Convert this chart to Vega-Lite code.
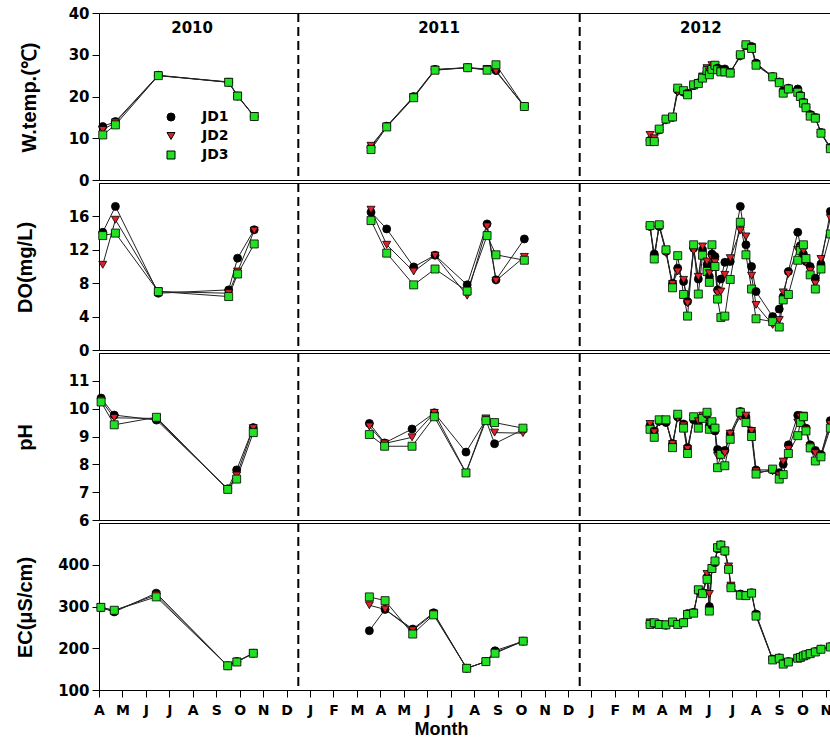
{
"$schema": "https://vega.github.io/schema/vega-lite/v6.json",
"background": "white",
"padding": {"left": 14, "top": 5, "right": 0, "bottom": 0},
"spacing": 3,
"bounds": "flush",
"datasets": {
"temp": [
{"yr":2010,"m":0.16,"JD1":12.8,"JD2":12.0,"JD3":10.8},
{"yr":2010,"m":0.7,"JD1":14.0,"JD2":13.8,"JD3":13.2},
{"yr":2010,"m":2.53,"JD1":25.1,"JD2":25.0,"JD3":25.0},
{"yr":2010,"m":5.53,"JD1":23.4,"JD2":23.5,"JD3":23.4},
{"yr":2010,"m":5.91,"JD1":20.1,"JD2":20.2,"JD3":20.1},
{"yr":2010,"m":6.62,"JD1":15.2,"JD2":15.3,"JD3":15.2},
{"yr":2011,"m":11.6,"JD1":7.8,"JD2":8.2,"JD3":7.3},
{"yr":2011,"m":12.27,"JD1":12.9,"JD2":12.8,"JD3":12.7},
{"yr":2011,"m":13.42,"JD1":20.0,"JD2":19.9,"JD3":19.7},
{"yr":2011,"m":14.33,"JD1":26.5,"JD2":26.4,"JD3":26.3},
{"yr":2011,"m":15.72,"JD1":26.9,"JD2":26.9,"JD3":26.9},
{"yr":2011,"m":16.55,"JD1":26.5,"JD2":26.6,"JD3":26.3},
{"yr":2011,"m":16.93,"JD1":26.2,"JD2":26.0,"JD3":27.6},
{"yr":2011,"m":18.14,"JD1":17.6,"JD2":17.6,"JD3":17.6},
{"yr":2012,"m":23.5,"JD1":9.5,"JD2":10.8,"JD3":9.2},
{"yr":2012,"m":23.68,"JD1":9.4,"JD2":10.0,"JD3":9.2},
{"yr":2012,"m":23.89,"JD1":12.0,"JD2":11.8,"JD3":12.2},
{"yr":2012,"m":24.18,"JD1":14.5,"JD2":14.2,"JD3":14.6},
{"yr":2012,"m":24.46,"JD1":15.0,"JD2":15.0,"JD3":15.1},
{"yr":2012,"m":24.68,"JD1":21.5,"JD2":21.0,"JD3":22.0},
{"yr":2012,"m":24.93,"JD1":21.0,"JD2":21.0,"JD3":21.4},
{"yr":2012,"m":25.1,"JD1":20.8,"JD2":20.6,"JD3":20.4},
{"yr":2012,"m":25.36,"JD1":22.6,"JD2":22.5,"JD3":22.8},
{"yr":2012,"m":25.56,"JD1":23.3,"JD2":23.2,"JD3":23.1},
{"yr":2012,"m":25.74,"JD1":24.6,"JD2":24.8,"JD3":24.4},
{"yr":2012,"m":25.93,"JD1":26.0,"JD2":26.8,"JD3":26.2},
{"yr":2012,"m":26.03,"JD1":25.8,"JD2":26.0,"JD3":25.2},
{"yr":2012,"m":26.14,"JD1":26.8,"JD2":27.5,"JD3":26.5},
{"yr":2012,"m":26.27,"JD1":27.2,"JD2":27.3,"JD3":27.5},
{"yr":2012,"m":26.38,"JD1":26.8,"JD2":26.6,"JD3":26.4},
{"yr":2012,"m":26.52,"JD1":26.3,"JD2":26.2,"JD3":25.9},
{"yr":2012,"m":26.69,"JD1":26.6,"JD2":26.0,"JD3":25.9},
{"yr":2012,"m":26.92,"JD1":25.8,"JD2":25.8,"JD3":25.6},
{"yr":2012,"m":27.35,"JD1":29.8,"JD2":29.5,"JD3":30.0},
{"yr":2012,"m":27.59,"JD1":32.2,"JD2":32.0,"JD3":32.4},
{"yr":2012,"m":27.83,"JD1":32.0,"JD2":31.8,"JD3":31.5},
{"yr":2012,"m":28.02,"JD1":28.0,"JD2":27.8,"JD3":27.5},
{"yr":2012,"m":28.73,"JD1":24.8,"JD2":24.7,"JD3":24.7},
{"yr":2012,"m":29.01,"JD1":23.5,"JD2":23.4,"JD3":23.3},
{"yr":2012,"m":29.18,"JD1":21.3,"JD2":21.0,"JD3":20.8},
{"yr":2012,"m":29.4,"JD1":22.0,"JD2":21.6,"JD3":21.8},
{"yr":2012,"m":29.8,"JD1":21.8,"JD2":21.2,"JD3":21.0},
{"yr":2012,"m":29.91,"JD1":20.3,"JD2":20.1,"JD3":20.0},
{"yr":2012,"m":30.04,"JD1":18.6,"JD2":18.5,"JD3":18.4},
{"yr":2012,"m":30.15,"JD1":17.4,"JD2":17.2,"JD3":17.3},
{"yr":2012,"m":30.33,"JD1":15.7,"JD2":15.5,"JD3":15.3},
{"yr":2012,"m":30.55,"JD1":15.0,"JD2":14.9,"JD3":14.8},
{"yr":2012,"m":30.79,"JD1":11.4,"JD2":11.3,"JD3":11.2},
{"yr":2012,"m":31.19,"JD1":7.8,"JD2":7.6,"JD3":7.5}
],
"dox": [
{"yr":2010,"m":0.16,"JD1":14.1,"JD2":10.2,"JD3":13.7},
{"yr":2010,"m":0.7,"JD1":17.2,"JD2":15.6,"JD3":14.0},
{"yr":2010,"m":2.53,"JD1":6.8,"JD2":7.0,"JD3":7.0},
{"yr":2010,"m":5.53,"JD1":7.2,"JD2":6.8,"JD3":6.4},
{"yr":2010,"m":5.91,"JD1":11.0,"JD2":9.4,"JD3":9.1},
{"yr":2010,"m":6.62,"JD1":14.4,"JD2":14.3,"JD3":12.7},
{"yr":2011,"m":11.6,"JD1":16.5,"JD2":16.8,"JD3":15.5},
{"yr":2011,"m":12.27,"JD1":14.5,"JD2":12.6,"JD3":11.6},
{"yr":2011,"m":13.42,"JD1":9.95,"JD2":9.4,"JD3":7.8},
{"yr":2011,"m":14.33,"JD1":11.35,"JD2":11.3,"JD3":9.7},
{"yr":2011,"m":15.7,"JD1":7.8,"JD2":6.5,"JD3":7.05},
{"yr":2011,"m":16.55,"JD1":15.1,"JD2":14.8,"JD3":13.7},
{"yr":2011,"m":16.93,"JD1":8.4,"JD2":8.3,"JD3":11.4},
{"yr":2011,"m":18.14,"JD1":13.3,"JD2":11.15,"JD3":10.75},
{"yr":2012,"m":23.5,"JD1":14.8,"JD2":14.7,"JD3":14.9},
{"yr":2012,"m":23.68,"JD1":11.5,"JD2":11.0,"JD3":10.9},
{"yr":2012,"m":23.89,"JD1":14.8,"JD2":14.9,"JD3":15.0},
{"yr":2012,"m":24.18,"JD1":11.8,"JD2":11.6,"JD3":12.0},
{"yr":2012,"m":24.46,"JD1":8.0,"JD2":7.9,"JD3":7.45},
{"yr":2012,"m":24.68,"JD1":9.8,"JD2":9.4,"JD3":11.3},
{"yr":2012,"m":24.93,"JD1":8.2,"JD2":8.4,"JD3":6.65},
{"yr":2012,"m":25.1,"JD1":5.8,"JD2":5.6,"JD3":4.06},
{"yr":2012,"m":25.36,"JD1":12.2,"JD2":11.85,"JD3":12.6},
{"yr":2012,"m":25.56,"JD1":8.5,"JD2":8.76,"JD3":6.7},
{"yr":2012,"m":25.74,"JD1":12.0,"JD2":12.4,"JD3":11.35},
{"yr":2012,"m":25.93,"JD1":10.2,"JD2":10.6,"JD3":9.4},
{"yr":2012,"m":26.03,"JD1":8.8,"JD2":9.2,"JD3":8.1},
{"yr":2012,"m":26.14,"JD1":11.5,"JD2":11.0,"JD3":12.6},
{"yr":2012,"m":26.27,"JD1":11.2,"JD2":10.5,"JD3":10.0},
{"yr":2012,"m":26.38,"JD1":7.2,"JD2":6.8,"JD3":6.1},
{"yr":2012,"m":26.52,"JD1":8.5,"JD2":7.0,"JD3":3.9},
{"yr":2012,"m":26.69,"JD1":10.5,"JD2":9.0,"JD3":4.06},
{"yr":2012,"m":26.92,"JD1":10.6,"JD2":11.0,"JD3":8.45},
{"yr":2012,"m":27.35,"JD1":17.2,"JD2":14.3,"JD3":15.3},
{"yr":2012,"m":27.59,"JD1":12.6,"JD2":13.6,"JD3":11.4},
{"yr":2012,"m":27.83,"JD1":10.0,"JD2":8.9,"JD3":7.3},
{"yr":2012,"m":28.02,"JD1":7.0,"JD2":5.4,"JD3":3.74},
{"yr":2012,"m":28.73,"JD1":4.0,"JD2":3.0,"JD3":3.4},
{"yr":2012,"m":29.01,"JD1":4.9,"JD2":3.6,"JD3":2.75},
{"yr":2012,"m":29.18,"JD1":6.4,"JD2":6.9,"JD3":6.0},
{"yr":2012,"m":29.4,"JD1":9.4,"JD2":9.1,"JD3":6.65},
{"yr":2012,"m":29.8,"JD1":14.1,"JD2":12.0,"JD3":10.75},
{"yr":2012,"m":29.91,"JD1":12.5,"JD2":12.2,"JD3":11.9},
{"yr":2012,"m":30.04,"JD1":11.5,"JD2":11.9,"JD3":12.6},
{"yr":2012,"m":30.15,"JD1":10.6,"JD2":10.45,"JD3":10.95},
{"yr":2012,"m":30.33,"JD1":10.0,"JD2":9.5,"JD3":9.0},
{"yr":2012,"m":30.55,"JD1":8.6,"JD2":7.95,"JD3":7.3},
{"yr":2012,"m":30.79,"JD1":10.3,"JD2":10.9,"JD3":9.7},
{"yr":2012,"m":31.19,"JD1":16.6,"JD2":15.8,"JD3":13.9}
],
"ph": [
{"yr":2010,"m":0.09,"JD1":10.38,"JD2":10.3,"JD3":10.24},
{"yr":2010,"m":0.65,"JD1":9.77,"JD2":9.67,"JD3":9.42},
{"yr":2010,"m":2.45,"JD1":9.59,"JD2":9.65,"JD3":9.69},
{"yr":2010,"m":5.49,"JD1":7.12,"JD2":7.1,"JD3":7.1},
{"yr":2010,"m":5.87,"JD1":7.8,"JD2":7.6,"JD3":7.47},
{"yr":2010,"m":6.58,"JD1":9.32,"JD2":9.3,"JD3":9.14},
{"yr":2011,"m":11.53,"JD1":9.47,"JD2":9.36,"JD3":9.07},
{"yr":2011,"m":12.18,"JD1":8.77,"JD2":8.75,"JD3":8.65},
{"yr":2011,"m":13.35,"JD1":9.27,"JD2":8.97,"JD3":8.65},
{"yr":2011,"m":14.3,"JD1":9.85,"JD2":9.85,"JD3":9.71},
{"yr":2011,"m":15.65,"JD1":8.44,"JD2":7.7,"JD3":7.69},
{"yr":2011,"m":16.5,"JD1":9.6,"JD2":9.65,"JD3":9.57},
{"yr":2011,"m":16.87,"JD1":8.74,"JD2":9.14,"JD3":9.5},
{"yr":2011,"m":18.08,"JD1":9.25,"JD2":9.12,"JD3":9.3},
{"yr":2012,"m":23.5,"JD1":9.4,"JD2":9.45,"JD3":9.26},
{"yr":2012,"m":23.68,"JD1":9.2,"JD2":9.15,"JD3":8.97},
{"yr":2012,"m":23.89,"JD1":9.55,"JD2":9.5,"JD3":9.6},
{"yr":2012,"m":24.18,"JD1":9.5,"JD2":9.55,"JD3":9.6},
{"yr":2012,"m":24.46,"JD1":8.75,"JD2":8.73,"JD3":8.6},
{"yr":2012,"m":24.68,"JD1":9.7,"JD2":9.65,"JD3":9.8},
{"yr":2012,"m":24.93,"JD1":9.45,"JD2":9.4,"JD3":9.3},
{"yr":2012,"m":25.1,"JD1":8.6,"JD2":8.55,"JD3":8.39},
{"yr":2012,"m":25.36,"JD1":9.6,"JD2":9.65,"JD3":9.71},
{"yr":2012,"m":25.56,"JD1":9.5,"JD2":9.55,"JD3":9.3},
{"yr":2012,"m":25.74,"JD1":9.7,"JD2":9.75,"JD3":9.65},
{"yr":2012,"m":25.93,"JD1":9.8,"JD2":9.75,"JD3":9.87},
{"yr":2012,"m":26.03,"JD1":9.4,"JD2":9.45,"JD3":9.26},
{"yr":2012,"m":26.14,"JD1":9.4,"JD2":9.45,"JD3":9.53},
{"yr":2012,"m":26.27,"JD1":9.2,"JD2":9.25,"JD3":9.3},
{"yr":2012,"m":26.38,"JD1":8.53,"JD2":8.3,"JD3":7.88},
{"yr":2012,"m":26.52,"JD1":8.45,"JD2":8.3,"JD3":8.36},
{"yr":2012,"m":26.69,"JD1":8.5,"JD2":8.4,"JD3":7.95},
{"yr":2012,"m":26.92,"JD1":9.1,"JD2":9.1,"JD3":8.9},
{"yr":2012,"m":27.35,"JD1":9.9,"JD2":9.71,"JD3":9.87},
{"yr":2012,"m":27.59,"JD1":9.7,"JD2":9.75,"JD3":9.5},
{"yr":2012,"m":27.83,"JD1":9.2,"JD2":9.2,"JD3":9.0},
{"yr":2012,"m":28.02,"JD1":7.8,"JD2":7.75,"JD3":7.65},
{"yr":2012,"m":28.73,"JD1":7.8,"JD2":7.75,"JD3":7.83},
{"yr":2012,"m":29.01,"JD1":7.7,"JD2":7.6,"JD3":7.47},
{"yr":2012,"m":29.18,"JD1":8.0,"JD2":8.1,"JD3":7.63},
{"yr":2012,"m":29.4,"JD1":8.7,"JD2":8.55,"JD3":8.39},
{"yr":2012,"m":29.8,"JD1":9.76,"JD2":9.5,"JD3":9.03},
{"yr":2012,"m":29.91,"JD1":9.75,"JD2":9.7,"JD3":9.5},
{"yr":2012,"m":30.04,"JD1":9.7,"JD2":9.75,"JD3":9.71},
{"yr":2012,"m":30.15,"JD1":9.3,"JD2":9.25,"JD3":9.2},
{"yr":2012,"m":30.33,"JD1":8.7,"JD2":8.65,"JD3":8.59},
{"yr":2012,"m":30.55,"JD1":8.5,"JD2":8.4,"JD3":8.12},
{"yr":2012,"m":30.79,"JD1":8.35,"JD2":8.3,"JD3":8.27},
{"yr":2012,"m":31.19,"JD1":9.57,"JD2":9.45,"JD3":9.3}
],
"ec": [
{"yr":2010,"m":0.08,"JD1":297,"JD2":298,"JD3":298},
{"yr":2010,"m":0.65,"JD1":287,"JD2":290,"JD3":291},
{"yr":2010,"m":2.44,"JD1":332,"JD2":328,"JD3":323},
{"yr":2010,"m":5.49,"JD1":158,"JD2":158,"JD3":158},
{"yr":2010,"m":5.88,"JD1":168,"JD2":168,"JD3":167},
{"yr":2010,"m":6.58,"JD1":188,"JD2":188,"JD3":188},
{"yr":2011,"m":11.53,"JD1":242,"JD2":303,"JD3":323},
{"yr":2011,"m":12.2,"JD1":293,"JD2":293,"JD3":314},
{"yr":2011,"m":13.38,"JD1":246,"JD2":243,"JD3":234},
{"yr":2011,"m":14.27,"JD1":285,"JD2":283,"JD3":280},
{"yr":2011,"m":15.68,"JD1":152,"JD2":152,"JD3":152},
{"yr":2011,"m":16.5,"JD1":168,"JD2":168,"JD3":168},
{"yr":2011,"m":16.89,"JD1":194,"JD2":190,"JD3":188},
{"yr":2011,"m":18.09,"JD1":217,"JD2":217,"JD3":217},
{"yr":2012,"m":23.5,"JD1":260,"JD2":262,"JD3":257},
{"yr":2012,"m":23.68,"JD1":259,"JD2":260,"JD3":261},
{"yr":2012,"m":23.89,"JD1":258,"JD2":256,"JD3":257},
{"yr":2012,"m":24.18,"JD1":255,"JD2":257,"JD3":256},
{"yr":2012,"m":24.46,"JD1":262,"JD2":263,"JD3":263},
{"yr":2012,"m":24.68,"JD1":258,"JD2":256,"JD3":257},
{"yr":2012,"m":24.93,"JD1":262,"JD2":261,"JD3":261},
{"yr":2012,"m":25.1,"JD1":283,"JD2":282,"JD3":281},
{"yr":2012,"m":25.36,"JD1":286,"JD2":285,"JD3":284},
{"yr":2012,"m":25.56,"JD1":338,"JD2":340,"JD3":340},
{"yr":2012,"m":25.74,"JD1":333,"JD2":332,"JD3":331},
{"yr":2012,"m":25.93,"JD1":370,"JD2":378,"JD3":365},
{"yr":2012,"m":26.03,"JD1":300,"JD2":330,"JD3":289},
{"yr":2012,"m":26.14,"JD1":390,"JD2":392,"JD3":391},
{"yr":2012,"m":26.27,"JD1":405,"JD2":408,"JD3":409},
{"yr":2012,"m":26.38,"JD1":438,"JD2":440,"JD3":441},
{"yr":2012,"m":26.52,"JD1":448,"JD2":447,"JD3":447},
{"yr":2012,"m":26.69,"JD1":432,"JD2":434,"JD3":433},
{"yr":2012,"m":26.85,"JD1":392,"JD2":396,"JD3":389},
{"yr":2012,"m":26.95,"JD1":348,"JD2":350,"JD3":345},
{"yr":2012,"m":27.35,"JD1":330,"JD2":328,"JD3":327},
{"yr":2012,"m":27.59,"JD1":327,"JD2":326,"JD3":326},
{"yr":2012,"m":27.83,"JD1":333,"JD2":332,"JD3":332},
{"yr":2012,"m":28.02,"JD1":282,"JD2":280,"JD3":277},
{"yr":2012,"m":28.73,"JD1":174,"JD2":173,"JD3":172},
{"yr":2012,"m":29.01,"JD1":177,"JD2":176,"JD3":176},
{"yr":2012,"m":29.18,"JD1":164,"JD2":163,"JD3":162},
{"yr":2012,"m":29.4,"JD1":168,"JD2":167,"JD3":167},
{"yr":2012,"m":29.8,"JD1":177,"JD2":176,"JD3":176},
{"yr":2012,"m":29.91,"JD1":179,"JD2":178,"JD3":178},
{"yr":2012,"m":30.04,"JD1":182,"JD2":181,"JD3":181.5},
{"yr":2012,"m":30.15,"JD1":185,"JD2":184,"JD3":184},
{"yr":2012,"m":30.33,"JD1":188,"JD2":187,"JD3":187},
{"yr":2012,"m":30.55,"JD1":192,"JD2":191,"JD3":191},
{"yr":2012,"m":30.79,"JD1":198,"JD2":197,"JD3":197.6},
{"yr":2012,"m":31.19,"JD1":204,"JD2":203,"JD3":203}
],
"years": [
{"label":"2010","m":3.97},
{"label":"2011","m":14.5},
{"label":"2012","m":25.67}
],
"bounds": [{"b": 8.5}, {"b": 20.5}]
},
"vconcat": [
{
"width": 733, "height": 167,
"layer": [
{"data": {"name": "bounds"}, "mark": {"type": "rule", "color": "black", "strokeWidth": 2, "strokeDash": [9, 5]}, "encoding": {"x": {"field": "b", "type": "quantitative", "axis": null}}},
{"data": {"name": "temp"}, "transform": [{"fold": ["JD1", "JD2", "JD3"], "as": ["site", "val"]}],
 "mark": {"type": "line", "color": "#222", "strokeWidth": 1},
 "encoding": {
  "x": {"field": "m", "type": "quantitative", "scale": {"domain": [0, 31.26], "nice": false, "zero": false}, "axis": null},
  "y": {"field": "val", "type": "quantitative", "scale": {"domain": [0, 40], "nice": false, "zero": false},
        "axis": {"values": [0, 10, 20, 30, 40], "tickCount": 10, "format": "d", "labelOverlap": false, "title": "W.temp.(℃)", "titleX": -60, "titleY": 84, "titleAngle": 270, "titleAlign": "center", "titleBaseline": "bottom"}},
  "detail": [{"field": "site", "type": "nominal"}, {"field": "yr", "type": "nominal"}]}},
{"data": {"name": "temp"}, "transform": [{"fold": ["JD1", "JD2", "JD3"], "as": ["site", "val"]}],
 "mark": {"type": "point", "filled": true, "opacity": 1, "size": 64, "stroke": "black", "strokeWidth": 0.8},
 "encoding": {
  "x": {"field": "m", "type": "quantitative", "axis": null},
  "y": {"field": "val", "type": "quantitative"},
  "shape": {"field": "site", "type": "nominal", "scale": {"domain": ["JD1", "JD2", "JD3"], "range": ["circle", "triangle-down", "square"]},
    "legend": {"orient": "none", "legendX": 65, "legendY": 97, "title": null, "rowPadding": 5, "labelOffset": 24, "labelFont": "DejaVu Sans", "labelFontWeight": "bold", "labelFontSize": 14, "labelColor": "black", "symbolSize": 64, "symbolStrokeColor": "black", "symbolStrokeWidth": 1}},
  "color": {"field": "site", "type": "nominal", "scale": {"domain": ["JD1", "JD2", "JD3"], "range": ["#000000", "#e0202a", "#22e022"]},
    "legend": {"orient": "none", "legendX": 65, "legendY": 97, "title": null, "rowPadding": 5, "labelOffset": 24, "labelFont": "DejaVu Sans", "labelFontWeight": "bold", "labelFontSize": 14, "labelColor": "black", "symbolSize": 64, "symbolStrokeColor": "black", "symbolStrokeWidth": 1}}}},
{"data": {"name": "years"},
 "mark": {"type": "text", "font": "DejaVu Sans", "fontWeight": "bold", "fontSize": 15, "color": "black", "baseline": "middle"},
 "encoding": {"x": {"field": "m", "type": "quantitative", "axis": null}, "y": {"datum": 36.4, "type": "quantitative"}, "text": {"field": "label", "type": "nominal"}}}
]
},
{
"width": 733, "height": 167,
"layer": [
{"data": {"name": "bounds"}, "mark": {"type": "rule", "color": "black", "strokeWidth": 2, "strokeDash": [9, 5]}, "encoding": {"x": {"field": "b", "type": "quantitative", "axis": null}}},
{"data": {"name": "dox"}, "transform": [{"fold": ["JD1", "JD2", "JD3"], "as": ["site", "val"]}],
 "mark": {"type": "line", "color": "#222", "strokeWidth": 1},
 "encoding": {
  "x": {"field": "m", "type": "quantitative", "scale": {"domain": [0, 31.26], "nice": false, "zero": false}, "axis": null},
  "y": {"field": "val", "type": "quantitative", "scale": {"domain": [0, 20], "nice": false, "zero": false},
        "axis": {"values": [0, 4, 8, 12, 16], "tickCount": 10, "format": "d", "labelOverlap": false, "title": "DO(mg/L)", "titleX": -64, "titleY": 84, "titleAngle": 270, "titleAlign": "center", "titleBaseline": "bottom"}},
  "detail": [{"field": "site", "type": "nominal"}, {"field": "yr", "type": "nominal"}]}},
{"data": {"name": "dox"}, "transform": [{"fold": ["JD1", "JD2", "JD3"], "as": ["site", "val"]}],
 "mark": {"type": "point", "filled": true, "opacity": 1, "size": 64, "stroke": "black", "strokeWidth": 0.8},
 "encoding": {
  "x": {"field": "m", "type": "quantitative", "axis": null},
  "y": {"field": "val", "type": "quantitative"},
  "shape": {"field": "site", "type": "nominal", "legend": null},
  "color": {"field": "site", "type": "nominal", "legend": null}}}
]
},
{
"width": 733, "height": 167,
"layer": [
{"data": {"name": "bounds"}, "mark": {"type": "rule", "color": "black", "strokeWidth": 2, "strokeDash": [9, 5]}, "encoding": {"x": {"field": "b", "type": "quantitative", "axis": null}}},
{"data": {"name": "ph"}, "transform": [{"fold": ["JD1", "JD2", "JD3"], "as": ["site", "val"]}],
 "mark": {"type": "line", "color": "#222", "strokeWidth": 1},
 "encoding": {
  "x": {"field": "m", "type": "quantitative", "scale": {"domain": [0, 31.26], "nice": false, "zero": false}, "axis": null},
  "y": {"field": "val", "type": "quantitative", "scale": {"domain": [6, 12], "nice": false, "zero": false},
        "axis": {"values": [6, 7, 8, 9, 10, 11], "tickCount": 12, "format": "d", "labelOverlap": false, "title": "pH", "titleX": -64, "titleY": 84, "titleAngle": 270, "titleAlign": "center", "titleBaseline": "bottom"}},
  "detail": [{"field": "site", "type": "nominal"}, {"field": "yr", "type": "nominal"}]}},
{"data": {"name": "ph"}, "transform": [{"fold": ["JD1", "JD2", "JD3"], "as": ["site", "val"]}],
 "mark": {"type": "point", "filled": true, "opacity": 1, "size": 64, "stroke": "black", "strokeWidth": 0.8},
 "encoding": {
  "x": {"field": "m", "type": "quantitative", "axis": null},
  "y": {"field": "val", "type": "quantitative"},
  "shape": {"field": "site", "type": "nominal", "legend": null},
  "color": {"field": "site", "type": "nominal", "legend": null}}}
]
},
{
"width": 733, "height": 167,
"layer": [
{"data": {"name": "bounds"}, "mark": {"type": "rule", "color": "black", "strokeWidth": 2, "strokeDash": [9, 5]},
 "encoding": {"x": {"field": "b", "type": "quantitative",
   "axis": {"values": [0,1,2,3,4,5,6,7,8,9,10,11,12,13,14,15,16,17,18,19,20,21,22,23,24,25,26,27,28,29,30,31],
            "tickCount": 64,
            "labelExpr": "['A','M','J','J','A','S','O','N','D','J','F','M'][datum.value % 12]",
            "labelFlush": false, "labelOverlap": false, "labelFontSize": 14, "labelPadding": 6,
            "title": "Month", "titleFontSize": 18, "titleX": 342, "titleY": 44, "titleAlign": "center", "titleBaseline": "alphabetic"}}}},
{"data": {"name": "ec"}, "transform": [{"fold": ["JD1", "JD2", "JD3"], "as": ["site", "val"]}],
 "mark": {"type": "line", "color": "#222", "strokeWidth": 1},
 "encoding": {
  "x": {"field": "m", "type": "quantitative", "scale": {"domain": [0, 31.26], "nice": false, "zero": false}},
  "y": {"field": "val", "type": "quantitative", "scale": {"domain": [100, 500], "nice": false, "zero": false},
        "axis": {"values": [100, 200, 300, 400], "tickCount": 10, "format": "d", "labelOverlap": false, "title": "EC(μS/cm)", "titleX": -64, "titleY": 84, "titleAngle": 270, "titleAlign": "center", "titleBaseline": "bottom"}},
  "detail": [{"field": "site", "type": "nominal"}, {"field": "yr", "type": "nominal"}]}},
{"data": {"name": "ec"}, "transform": [{"fold": ["JD1", "JD2", "JD3"], "as": ["site", "val"]}],
 "mark": {"type": "point", "filled": true, "opacity": 1, "size": 64, "stroke": "black", "strokeWidth": 0.8},
 "encoding": {
  "x": {"field": "m", "type": "quantitative"},
  "y": {"field": "val", "type": "quantitative"},
  "shape": {"field": "site", "type": "nominal", "legend": null},
  "color": {"field": "site", "type": "nominal", "legend": null}}}
]
}
],
"config": {
 "view": {"stroke": "black", "strokeWidth": 1},
 "axis": {"grid": false, "domainColor": "black", "tickColor": "black", "tickSize": 7, "labelOverlap": false,
          "labelColor": "black", "labelFont": "DejaVu Sans", "labelFontWeight": "bold", "labelFontSize": 15, "labelPadding": 3,
          "titleColor": "black", "titleFont": "Liberation Sans", "titleFontWeight": "bold", "titleFontSize": 20}
}
}
